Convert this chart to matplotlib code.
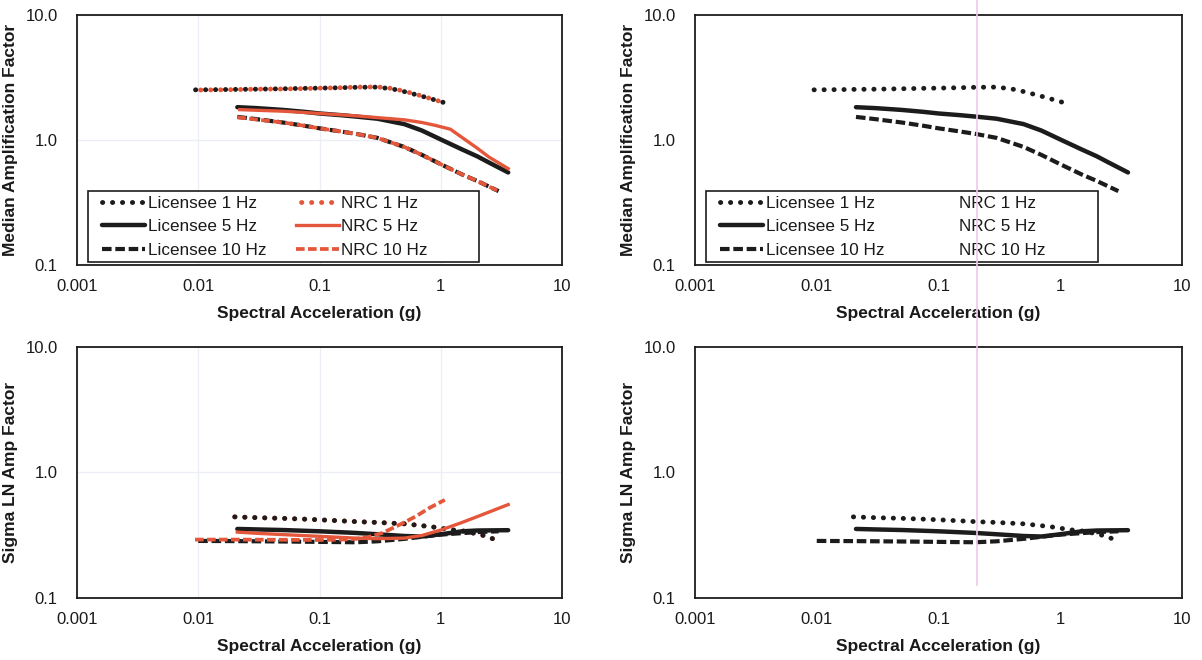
import matplotlib
matplotlib.use("Agg")
import matplotlib.pyplot as plt
from matplotlib.lines import Line2D
from matplotlib.patches import Rectangle
from matplotlib.ticker import FixedLocator, FixedFormatter, NullLocator

plt.rcParams['font.family'] = ['Liberation Sans', 'DejaVu Sans']

# ---------------- data: median amplification ----------------
med_lic1_x = [0.0095, 0.015, 0.02, 0.03, 0.05, 0.075, 0.1, 0.15, 0.2, 0.3, 0.4, 0.5, 0.7, 1.05]
med_lic1_y = [2.52, 2.53, 2.54, 2.55, 2.57, 2.59, 2.60, 2.62, 2.64, 2.65, 2.56, 2.44, 2.24, 2.0]
med_nrc1_x = [0.0095, 0.015, 0.02, 0.03, 0.05, 0.075, 0.1, 0.15, 0.2, 0.3, 0.4, 0.5, 0.7, 1.05]
med_nrc1_y = [2.51, 2.52, 2.53, 2.55, 2.56, 2.58, 2.60, 2.62, 2.65, 2.66, 2.58, 2.46, 2.25, 2.0]

med_lic5_x = [0.021, 0.03, 0.05, 0.075, 0.1, 0.15, 0.2, 0.3, 0.5, 0.7, 1.0, 1.5, 2.0, 2.5, 3.6]
med_lic5_y = [1.83, 1.80, 1.74, 1.68, 1.63, 1.58, 1.54, 1.48, 1.34, 1.19, 1.01, 0.84, 0.74, 0.66, 0.55]
med_nrc5_x = [0.022, 0.03, 0.05, 0.075, 0.1, 0.15, 0.2, 0.3, 0.5, 0.7, 0.9, 1.2, 2.0, 2.5, 3.6]
med_nrc5_y = [1.75, 1.73, 1.70, 1.66, 1.63, 1.59, 1.56, 1.51, 1.45, 1.38, 1.31, 1.22, 0.86, 0.73, 0.59]

med_lic10_x = [0.021, 0.03, 0.05, 0.075, 0.1, 0.15, 0.2, 0.3, 0.5, 0.7, 1.0, 1.5, 2.0, 3.0]
med_lic10_y = [1.53, 1.47, 1.38, 1.30, 1.24, 1.17, 1.12, 1.04, 0.88, 0.76, 0.64, 0.53, 0.47, 0.39]
med_nrc10_x = [0.021, 0.03, 0.05, 0.075, 0.1, 0.15, 0.2, 0.3, 0.5, 0.7, 1.0, 1.5, 2.0, 3.0]
med_nrc10_y = [1.52, 1.46, 1.38, 1.30, 1.24, 1.17, 1.12, 1.04, 0.88, 0.76, 0.64, 0.53, 0.47, 0.39]

# ---------------- data: sigma LN amplification ----------------
sig_lic1_x = [0.02, 0.03, 0.05, 0.075, 0.1, 0.15, 0.2, 0.3, 0.5, 0.7, 0.9, 1.2, 1.6, 2.25, 2.7]
sig_lic1_y = [0.443, 0.437, 0.431, 0.425, 0.42, 0.412, 0.406, 0.40, 0.39, 0.377, 0.366, 0.35, 0.34, 0.315, 0.296]
sig_nrc1_x = [0.02, 0.03, 0.05, 0.075, 0.1, 0.15, 0.2, 0.3, 0.5, 0.7, 0.9, 1.2, 1.6, 2.25, 2.7]
sig_nrc1_y = [0.443, 0.437, 0.431, 0.425, 0.42, 0.412, 0.406, 0.40, 0.39, 0.377, 0.366, 0.35, 0.34, 0.315, 0.296]

sig_lic5_x = [0.021, 0.03, 0.05, 0.1, 0.2, 0.3, 0.5, 0.7, 1.0, 1.5, 2.0, 3.6]
sig_lic5_y = [0.355, 0.352, 0.348, 0.34, 0.33, 0.322, 0.312, 0.309, 0.322, 0.34, 0.345, 0.347]
sig_nrc5_x = [0.021, 0.03, 0.05, 0.1, 0.2, 0.3, 0.5, 0.7, 1.0, 1.5, 2.0, 3.6]
sig_nrc5_y = [0.335, 0.328, 0.32, 0.31, 0.30, 0.297, 0.30, 0.315, 0.348, 0.40, 0.445, 0.555]

sig_lic10_x = [0.01, 0.02, 0.05, 0.1, 0.2, 0.3, 0.5, 1.0, 2.0, 3.0]
sig_lic10_y = [0.285, 0.284, 0.282, 0.28, 0.278, 0.283, 0.296, 0.32, 0.335, 0.34]
sig_nrc10_x = [0.0094, 0.02, 0.05, 0.1, 0.15, 0.2, 0.25, 0.33, 0.4, 0.5, 0.63, 0.8, 1.08]
sig_nrc10_y = [0.292, 0.292, 0.291, 0.29, 0.292, 0.296, 0.305, 0.33, 0.36, 0.40, 0.45, 0.52, 0.605]

x_ticks = [0.001, 0.01, 0.1, 1, 10]
x_tick_labels = ["0.001", "0.01", "0.1", "1", "10"]
y_ticks = [0.1, 1.0, 10.0]
y_tick_labels = ["0.1", "1.0", "10.0"]

labels = ["Licensee 1 Hz", "Licensee 5 Hz", "Licensee 10 Hz", "NRC 1 Hz", "NRC 5 Hz", "NRC 10 Hz"]
x_label = "Spectral Acceleration (g)"
y_label_top = "Median Amplification Factor"
y_label_bot = "Sigma LN Amp Factor"

BLACK = "#1c1c1c"
RED = "#e4573a"
TXT = "#1a1a1a"

DOT = (0, (0.05, 2.0))
DASH = (0, (2.3, 0.9))


def draw_panel(ax, series, nrc_color, ylabel, legend, grid, dot_phase):
    (l1x, l1y, l5x, l5y, l10x, l10y, n1x, n1y, n5x, n5y, n10x, n10y) = series
    z_n = 1 if nrc_color == "white" else 4
    h_l1, = ax.plot(l1x, l1y, color=BLACK, lw=3.5, linestyle=DOT, dash_capstyle='round', zorder=3)
    h_l5, = ax.plot(l5x, l5y, color=BLACK, lw=3.2, linestyle='-', solid_capstyle='round', zorder=3)
    h_l10, = ax.plot(l10x, l10y, color=BLACK, lw=3.0, linestyle=DASH, dash_capstyle='butt', zorder=3)
    h_n1, = ax.plot(n1x, n1y, color=nrc_color, lw=3.5, linestyle=(dot_phase, (0.05, 2.0)),
                    dash_capstyle='round', zorder=2.5 if z_n == 4 else 1)
    h_n5, = ax.plot(n5x, n5y, color=nrc_color, lw=2.4, linestyle='-', zorder=z_n)
    h_n10, = ax.plot(n10x, n10y, color=nrc_color, lw=2.7, linestyle=DASH, dash_capstyle='butt', zorder=z_n)
    hs = [h_l1, h_l5, h_l10, h_n1, h_n5, h_n10]

    ax.set_xscale('log')
    ax.set_yscale('log')
    ax.set_xlim(0.001, 10)
    ax.set_ylim(0.1, 10)
    ax.xaxis.set_major_locator(FixedLocator(x_ticks))
    ax.xaxis.set_major_formatter(FixedFormatter(x_tick_labels))
    ax.yaxis.set_major_locator(FixedLocator(y_ticks))
    ax.yaxis.set_major_formatter(FixedFormatter(y_tick_labels))
    ax.xaxis.set_minor_locator(NullLocator())
    ax.yaxis.set_minor_locator(NullLocator())
    ax.tick_params(axis='both', length=0, labelsize=12, colors=TXT)
    ax.tick_params(axis='x', pad=10)
    ax.tick_params(axis='y', pad=14)
    for sp in ax.spines.values():
        sp.set_color(BLACK)
        sp.set_linewidth(1.3)
    if grid:
        ax.grid(True, which='major', color='#eceef6', lw=0.9, zorder=0)
    ax.set_xlabel(x_label, fontsize=12.5, fontweight='bold', color=TXT)
    ax.xaxis.set_label_coords(0.5, -0.165)
    ax.set_ylabel(ylabel, fontsize=12.5, fontweight='bold', color=TXT)
    ax.yaxis.set_label_coords(-0.121, 0.5)

    if legend:
        box = Rectangle((0.022, 0.012), 0.806, 0.286, transform=ax.transAxes,
                        facecolor='white', edgecolor=BLACK, lw=1.2, zorder=5)
        ax.add_patch(box)
        leg = ax.legend(hs, labels, ncol=2, loc='upper left',
                        bbox_to_anchor=(0.045, 0.29),
                        fontsize=12.3, frameon=False,
                        handlelength=2.5, handletextpad=0.15,
                        labelspacing=0.5, borderpad=0.2, borderaxespad=0.0,
                        columnspacing=1.75)
        for t in leg.get_texts():
            t.set_color(TXT)
        leg.set_zorder(6)


fig = plt.figure(figsize=(12.02, 6.6), dpi=100)
W, H = 1202.0, 660.0
ax_tl = fig.add_axes([77 / W, 1 - 265 / H, 485 / W, 250 / H])
ax_tr = fig.add_axes([695 / W, 1 - 265 / H, 487 / W, 250 / H])
ax_bl = fig.add_axes([77 / W, 1 - 598 / H, 485 / W, 251 / H])
ax_br = fig.add_axes([695 / W, 1 - 598 / H, 487 / W, 251 / H])

med = (med_lic1_x, med_lic1_y, med_lic5_x, med_lic5_y, med_lic10_x, med_lic10_y,
       med_nrc1_x, med_nrc1_y, med_nrc5_x, med_nrc5_y, med_nrc10_x, med_nrc10_y)
sig = (sig_lic1_x, sig_lic1_y, sig_lic5_x, sig_lic5_y, sig_lic10_x, sig_lic10_y,
       sig_nrc1_x, sig_nrc1_y, sig_nrc5_x, sig_nrc5_y, sig_nrc10_x, sig_nrc10_y)

draw_panel(ax_tl, med, RED, y_label_top, True, True, 1.0)
draw_panel(ax_tr, med, "white", y_label_top, True, False, 1.0)
draw_panel(ax_bl, sig, RED, y_label_bot, False, True, 0.0)
draw_panel(ax_br, sig, "white", y_label_bot, False, False, 0.0)

# faint pink scanner streak on the right-hand panels
fig.add_artist(Line2D([977 / W, 977 / W], [1.0, 1 - 585 / H], transform=fig.transFigure,
                      color='#efc8ed', lw=1.2, zorder=10))

fig.savefig("out.png", dpi=100, facecolor='white')
